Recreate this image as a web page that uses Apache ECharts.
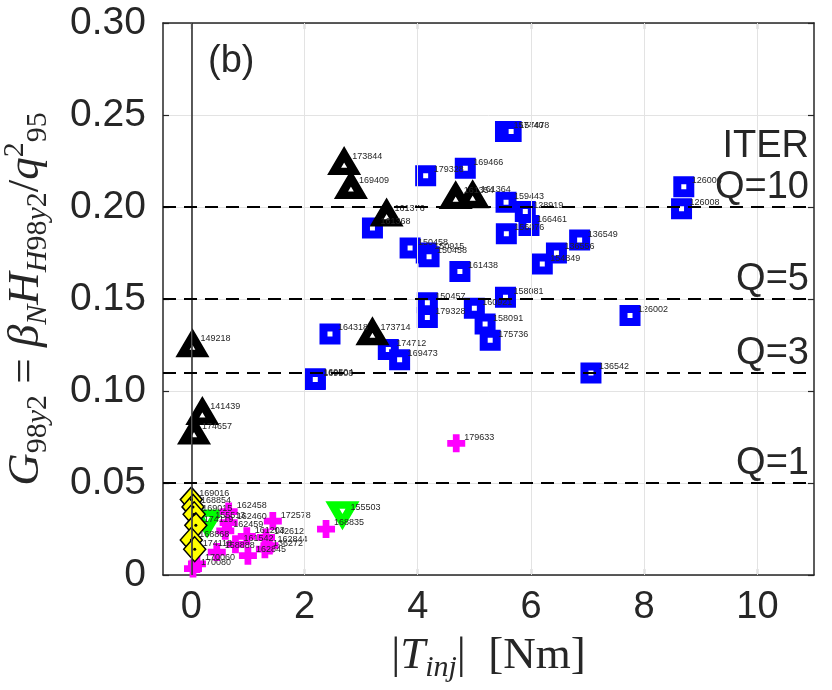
<!DOCTYPE html>
<html>
<head>
<meta charset="utf-8">
<script src="https://cdn.jsdelivr.net/npm/echarts@6/dist/echarts.min.js"></script>
<style>
  html, body { margin: 0; padding: 0; background: #fff; }
  #main { width: 832px; height: 690px; }
</style>
</head>
<body>
<div id="main"></div>
<script>
// [torque, G98y2, shot]
const squares = [
  [5.55, 0.241, "157440"], [5.65, 0.241, "157478"], [4.84, 0.221, "169466"],
  [4.14, 0.217, "179328"], [5.56, 0.2026, "159443"], [5.90, 0.1976, "128919"],
  [5.965, 0.190, "166461"], [5.565, 0.1855, "156076"], [6.86, 0.182, "136549"],
  [6.45, 0.175, "136556"], [6.20, 0.169, "154849"], [8.70, 0.211, "126006"],
  [8.66, 0.199, "126008"], [7.75, 0.141, "126002"], [7.06, 0.1098, "136542"],
  [5.55, 0.151, "158081"], [5.00, 0.145, "160921"], [5.19, 0.1364, "158091"],
  [5.28, 0.1276, "175736"], [4.17, 0.148, "150457"], [4.17, 0.140, "179328"],
  [2.45, 0.131, "164318"], [3.48, 0.1226, "174712"], [3.68, 0.117, "169473"],
  [2.19, 0.1066, "169504"], [2.19, 0.1062, "169503"], [3.865, 0.1777, "150458"],
  [4.15, 0.175, "150915"], [4.20, 0.173, "150458"], [4.745, 0.165, "161438"],
  [3.20, 0.1886, "161368"]
];
const triangles = [
  [2.70, 0.224, "173844"], [2.82, 0.211, "169409"], [3.45, 0.196, "161376"],
  [4.67, 0.2055, "161354"], [4.97, 0.206, "161364"], [3.20, 0.1315, "173714"],
  [0.02, 0.125, "149218"], [0.195, 0.0882, "141439"], [0.048, 0.0775, "174657"]
];
const crosses = [
  [4.68, 0.0716, "179633"], [2.38, 0.025, "168835"], [1.44, 0.0293, "172578"],
  [0.66, 0.0345, "162458"], [0.66, 0.0285, "162460"], [0.60, 0.024, "162459"],
  [0.98, 0.021, "161203"], [1.32, 0.0204, "142612"], [1.38, 0.016, "162844"],
  [0.78, 0.0167, "161542"], [1.30, 0.014, "136272"], [1.00, 0.0105, "162845"],
  [0.45, 0.0125, "158888"], [0.03, 0.0035, "170080"], [0.10, 0.006, "170060"]
];
const invTriangles = [
  [2.67, 0.0334, "155503"], [0.28, 0.029, "155513"]
];
const diamonds = [
  [0.00, 0.041, "169016"], [0.03, 0.037, "168854"], [0.05, 0.033, "169015"],
  [0.08, 0.027, "174119"], [0.00, 0.019, "168868"], [0.06, 0.014, "174118"]
];
const xTicks = [0, 2, 4, 6, 8, 10];
const qLevels = [0.05, 0.112, 0.15, 0.2];
const qNames = ["Q=1", "Q=3", "Q=5", "ITER\nQ=10"];

const sans = "'Liberation Sans', Arial, Helvetica, sans-serif";
const serif = "'Liberation Serif', 'Times New Roman', serif";
const ink = "#262626";

var chart = echarts.init(document.getElementById("main"));

const shotLabel = {
  show: true,
  position: "inside",
  align: "left",
  verticalAlign: "middle",
  offset: [8, -6],
  formatter: (p) => p.value[2],
  fontSize: 9,
  fontFamily: sans,
  color: ink,
};

const sub = { fontFamily: serif, fontSize: 30, lineHeight: 30, verticalAlign: "bottom", padding: [0, 0, 6, 0], color: ink };
const rich = {
  i: { fontFamily: serif, fontStyle: "italic", fontSize: 45, lineHeight: 66, color: ink },
  n: { fontFamily: serif, fontSize: 45, lineHeight: 66, color: ink },
  sd: sub,
  si: Object.assign({}, sub, { fontStyle: "italic" }),
  pd: { fontFamily: serif, fontSize: 30, lineHeight: 30, verticalAlign: "top", padding: [7, 0, 0, 0], color: ink },
};

const frameLine = { show: true, onZero: false, lineStyle: { color: ink, width: 1.5 } };
const frameTick = { show: true, inside: true, length: 6, lineStyle: { color: ink, width: 1.2 } };

const option = {
  animation: false,
  title: {
    text: "(b)", left: 203, top: 38,
    textStyle: { fontSize: 38, fontWeight: "normal", color: ink, fontFamily: sans },
  },
  grid: { left: 163, right: 18, top: 23, bottom: 115, containLabel: false, outerBoundsMode: "none" },
  xAxis: [
    {
      type: "value", min: -0.5, max: 11,
      axisLine: frameLine,
      axisTick: Object.assign({ customValues: xTicks }, frameTick),
      axisLabel: { customValues: xTicks, fontSize: 38, fontFamily: sans, color: ink, margin: 14 },
      splitLine: { show: false },
      name: "{n||}{i|T}{si|inj}{n||  [Nm]}",
      nameLocation: "middle", nameGap: 48,
      nameTextStyle: { rich: rich },
    },
    {
      type: "value", min: -0.5, max: 11, position: "top",
      axisLine: frameLine,
      axisTick: Object.assign({ customValues: xTicks }, frameTick),
      axisLabel: { show: false },
      splitLine: { show: false },
    },
  ],
  yAxis: [
    {
      type: "value", min: 0, max: 0.3, interval: 0.05,
      axisLine: frameLine,
      axisTick: frameTick,
      axisLabel: {
        fontSize: 39, fontFamily: sans, color: ink, margin: 17, padding: [7, 0, 0, 0],
        formatter: (v) => (v === 0 ? "0" : v.toFixed(2)),
      },
      splitLine: { show: true, lineStyle: { color: "#e3e3e3", width: 1 } },
      name: "{i|G}{sd|98}{si|y}{sd|2}{n| = }{i|β}{si|N}{i|H}{si|H}{sd|98}{si|y}{sd|2}{n|/}{i|q}{pd|2}{sd|95}",
      nameLocation: "middle", nameGap: 103, nameRotate: 90,
      nameTextStyle: { rich: rich },
    },
    {
      type: "value", min: 0, max: 0.3, interval: 0.05, position: "right",
      axisLine: frameLine,
      axisTick: frameTick,
      axisLabel: { show: false },
      splitLine: { show: false },
    },
  ],
  series: [
    {
      // grid lines at the x ticks and the solid line at zero torque
      type: "scatter", data: [], silent: true,
      markLine: {
        symbol: "none", silent: true, animation: false,
        label: { show: false },
        data: xTicks.map((v) => ({ xAxis: v, lineStyle: { color: "#e3e3e3", width: 1, type: "solid" } }))
          .concat([{ xAxis: 0, lineStyle: { color: ink, width: 1.5, type: "solid" } }]),
      },
    },
    {
      type: "scatter", data: [], silent: true,
      markLine: {
        symbol: "none", silent: true, animation: false,
        lineStyle: { color: "#000", width: 2, type: [13, 8] },
        label: {
          show: true, position: "insideEndTop", formatter: "{b}", distance: [5, -1],
          fontSize: 38, lineHeight: 41, fontFamily: sans, color: ink, align: "right",
        },
        data: qLevels.map((v, i) => ({ yAxis: v, name: qNames[i] })),
      },
    },
    {
      name: "squares", type: "scatter", data: squares,
      symbol: "rect", symbolSize: 13,
      itemStyle: { color: "#fff", borderColor: "#0000ff", borderWidth: 8, borderJoin: "miter", opacity: 1 },
      label: shotLabel,
    },
    {
      name: "triangles", type: "scatter", data: triangles,
      symbol: "triangle", symbolSize: [20, 17],
      itemStyle: { color: "#fff", borderColor: "#000", borderWidth: 8, borderJoin: "miter", borderMiterLimit: 10, opacity: 1 },
      label: shotLabel,
    },
    {
      name: "invTriangles", type: "scatter", data: invTriangles,
      symbol: "triangle", symbolRotate: 180, symbolSize: [20, 17],
      itemStyle: { color: "#fff", borderColor: "#00ff00", borderWidth: 8, borderJoin: "miter", borderMiterLimit: 10, opacity: 1 },
      label: shotLabel,
    },
    {
      name: "crosses", type: "scatter", data: crosses,
      symbol: "path://M5,0H11V5H16V11H11V16H5V11H0V5H5Z", symbolSize: 18,
      itemStyle: { color: "#ff00ff", opacity: 1 },
      label: shotLabel,
    },
    {
      name: "diamonds", type: "scatter", data: diamonds,
      symbol: "diamond", symbolSize: [22, 25],
      itemStyle: { color: "#ffff00", borderColor: "#000", borderWidth: 1.5, opacity: 1 },
      label: shotLabel,
    },
    {
      name: "diamondDots", type: "scatter", data: diamonds,
      symbol: "circle", symbolSize: 3, silent: true,
      itemStyle: { color: "#000", opacity: 1 },
    },
  ],
};

chart.setOption(option);
</script>
</body>
</html>
